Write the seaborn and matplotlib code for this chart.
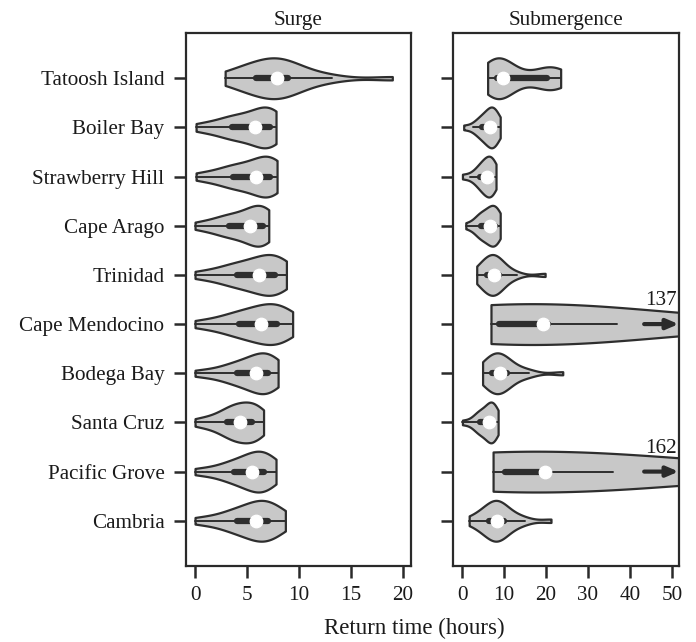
import numpy as np
import pandas as pd
import matplotlib
matplotlib.use("Agg")
import matplotlib.pyplot as plt
import seaborn as sns

sites = ["Tatoosh Island", "Boiler Bay", "Strawberry Hill", "Cape Arago", "Trinidad",
         "Cape Mendocino", "Bodega Bay", "Santa Cruz", "Pacific Grove", "Cambria"]

# Surge return times (hours)
surge_tatoosh = [2.9, 3.8, 4.6, 5.1, 5.5, 5.9, 6.4, 6.9, 7.3, 7.6, 7.9, 8.1, 8.3, 8.5, 8.7, 9.0, 9.6, 10.5, 11.8, 13.2, 19.0]
surge_boiler = [0.1, 1.2, 2.2, 2.9, 3.4, 3.6, 4.1, 4.6, 5.0, 5.4, 5.8, 6.1, 6.4, 6.7, 6.9, 7.2, 7.3, 7.4, 7.6, 7.7, 7.8]
surge_strawberry = [0.1, 1.3, 2.3, 3.0, 3.5, 3.7, 4.2, 4.7, 5.1, 5.5, 5.9, 6.2, 6.5, 6.7, 7.0, 7.2, 7.4, 7.5, 7.7, 7.8, 7.9]
surge_arago = [0.0, 1.1, 2.0, 2.6, 3.0, 3.3, 3.8, 4.2, 4.6, 5.0, 5.3, 5.6, 5.8, 6.0, 6.2, 6.5, 6.6, 6.8, 6.9, 7.0, 7.1]
surge_trinidad = [0.0, 1.4, 2.5, 3.2, 3.7, 4.0, 4.6, 5.1, 5.5, 5.9, 6.2, 6.5, 6.8, 7.1, 7.4, 7.7, 7.9, 8.1, 8.3, 8.6, 8.8]
surge_mendocino = [0.0, 1.5, 2.6, 3.4, 3.9, 4.2, 4.8, 5.3, 5.7, 6.1, 6.4, 6.7, 7.0, 7.3, 7.6, 7.9, 8.2, 8.5, 8.8, 9.1, 9.4]
surge_bodega = [0.0, 1.4, 2.5, 3.2, 3.7, 4.0, 4.5, 4.9, 5.3, 5.6, 5.9, 6.1, 6.3, 6.5, 6.8, 7.0, 7.2, 7.4, 7.6, 7.8, 8.0]
surge_santacruz = [0.0, 1.0, 1.8, 2.4, 2.8, 3.1, 3.4, 3.7, 3.9, 4.1, 4.3, 4.6, 4.9, 5.1, 5.3, 5.5, 5.8, 6.0, 6.2, 6.4, 6.6]
surge_pacific = [0.0, 1.3, 2.4, 3.0, 3.5, 3.8, 4.3, 4.7, 5.0, 5.3, 5.5, 5.8, 6.0, 6.2, 6.4, 6.6, 6.8, 7.1, 7.3, 7.6, 7.8]
surge_cambria = [0.0, 1.4, 2.5, 3.2, 3.7, 4.0, 4.5, 4.9, 5.3, 5.6, 5.9, 6.1, 6.3, 6.6, 6.8, 7.0, 7.3, 7.6, 7.9, 8.3, 8.7]

# Submergence return times (hours)
sub_tatoosh = [6.1, 6.8, 7.4, 7.8, 8.1, 8.3, 8.6, 8.9, 9.2, 9.5, 9.8, 10.5, 12.5, 15.5, 18.5, 20.2, 20.8, 21.3, 21.8, 22.5, 23.5]
sub_boiler = [0.4, 2.5, 3.5, 4.1, 4.5, 4.8, 5.3, 5.7, 6.0, 6.3, 6.6, 6.8, 7.0, 7.2, 7.4, 7.5, 7.8, 8.1, 8.4, 8.8, 9.1]
sub_strawberry = [0.1, 2.0, 3.1, 3.7, 4.1, 4.4, 4.8, 5.1, 5.4, 5.7, 5.9, 6.1, 6.3, 6.5, 6.8, 7.0, 7.2, 7.5, 7.7, 7.9, 8.1]
sub_arago = [0.9, 2.6, 3.5, 4.0, 4.3, 4.6, 5.1, 5.5, 5.9, 6.3, 6.6, 6.8, 7.0, 7.3, 7.6, 7.8, 8.1, 8.4, 8.6, 8.9, 9.1]
sub_trinidad = [3.5, 4.3, 4.9, 5.3, 5.6, 5.9, 6.3, 6.7, 7.0, 7.4, 7.7, 7.9, 8.1, 8.3, 8.6, 8.9, 9.4, 10.2, 11.5, 13.0, 19.8]
sub_mendocino = [6.9, 7.5, 8.0, 8.3, 8.6, 8.9, 10.5, 12.5, 14.5, 17.0, 19.3, 19.6, 19.9, 20.1, 20.3, 20.5, 27.0, 37.0, 62.0, 95.0, 137.0]
sub_bodega = [4.9, 5.5, 6.0, 6.4, 6.8, 7.1, 7.5, 7.9, 8.3, 8.7, 9.1, 9.4, 9.7, 10.0, 10.3, 10.7, 11.5, 13.0, 15.0, 16.0, 24.0]
sub_santacruz = [0.1, 2.2, 3.2, 3.8, 4.1, 4.3, 4.8, 5.3, 5.7, 6.1, 6.4, 6.6, 6.8, 6.9, 7.1, 7.3, 7.5, 7.8, 8.1, 8.4, 8.6]
sub_pacific = [7.4, 8.2, 8.8, 9.3, 9.8, 10.3, 12.0, 14.0, 16.0, 18.0, 19.8, 20.0, 20.2, 20.4, 20.6, 20.8, 28.0, 36.0, 70.0, 110.0, 162.0]
sub_cambria = [1.7, 3.5, 4.6, 5.4, 6.0, 6.5, 7.0, 7.4, 7.8, 8.1, 8.3, 8.6, 8.9, 9.2, 9.6, 10.0, 10.8, 12.0, 13.5, 15.0, 21.2]

# Off-scale maxima labelled with arrows
offscale_sites = ["Cape Mendocino", "Pacific Grove"]
offscale_labels = ["137", "162"]

surge_lists = [surge_tatoosh, surge_boiler, surge_strawberry, surge_arago, surge_trinidad,
               surge_mendocino, surge_bodega, surge_santacruz, surge_pacific, surge_cambria]
sub_lists = [sub_tatoosh, sub_boiler, sub_strawberry, sub_arago, sub_trinidad,
             sub_mendocino, sub_bodega, sub_santacruz, sub_pacific, sub_cambria]


def to_df(lists):
    rows = []
    for s, vals in zip(sites, lists):
        for v in vals:
            rows.append((s, v))
    return pd.DataFrame(rows, columns=["site", "hours"])


surge_df = to_df(surge_lists)
sub_df = to_df(sub_lists)
sub_long = sub_df[sub_df["site"].isin(offscale_sites)]
sub_short = sub_df[~sub_df["site"].isin(offscale_sites)]

sns.set_style("ticks")
plt.rcParams["font.family"] = ["Liberation Serif", "DejaVu Serif"]

W, H = 696, 642
fig = plt.figure(figsize=(W / 100, H / 100), dpi=100)
ax1 = fig.add_axes([186 / W, (H - 566) / H, 225 / W, 533 / H])
ax2 = fig.add_axes([453 / W, (H - 566) / H, 226 / W, 533 / H])

dark = "#2a2a2a"
vkw = dict(orient="h", cut=0, density_norm="width", width=0.83, color="#c8c8c8",
           saturation=1, linecolor="#2e2e2e", linewidth=1.6, inner="box",
           inner_kws=dict(box_width=4.5, whis_width=1.4, marker="o", markersize=9))

sns.violinplot(data=surge_df, x="hours", y="site", order=sites, ax=ax1, **vkw)
sns.violinplot(data=sub_short, x="hours", y="site", order=sites, ax=ax2, **vkw)
sns.violinplot(data=sub_long, x="hours", y="site", order=sites, ax=ax2,
               bw_adjust=1.7, **vkw)

ax1.set_xlim(-0.87, 20.8)
ax1.set_xticks([0, 5, 10, 15, 20])
ax2.set_xlim(-2.15, 51.7)
ax2.set_xticks([0, 10, 20, 30, 40, 50])

for ax in (ax1, ax2):
    ax.set_ylim(9.92, -0.92)
    ax.set_xlabel("")
    ax.set_ylabel("")
    for sp in ax.spines.values():
        sp.set_visible(True)
        sp.set_linewidth(1.6)
        sp.set_color(dark)
    ax.tick_params(axis="both", length=8.5, width=1.8, color=dark, labelsize=15.2,
                   labelcolor="#1a1a1a")
    ax.tick_params(axis="x", pad=6)
    ax.tick_params(axis="y", pad=7)

ax2.set_yticks(range(len(sites)))
ax2.set_yticklabels([])
ax1.set_title("Surge", fontsize=15.2, pad=6, color="#1a1a1a")
ax2.set_title("Submergence", fontsize=15.2, pad=6, color="#1a1a1a")
fig.text(414.5 / W, (H - 634) / H, "Return time (hours)", ha="center", va="baseline",
         fontsize=16.5, color="#1a1a1a")

for s, lab in zip(offscale_sites, offscale_labels):
    i = sites.index(s)
    ax2.annotate("", xy=(51.6, i), xytext=(43.4, i),
                 arrowprops=dict(arrowstyle="-|>,head_length=0.7,head_width=0.3",
                                 lw=3.0, color=dark, shrinkA=0, shrinkB=0))
    ax2.text(47.5, i - 0.47, lab, ha="center", va="center", fontsize=15.2, color="#1a1a1a")

fig.savefig("out.png", dpi=100)
